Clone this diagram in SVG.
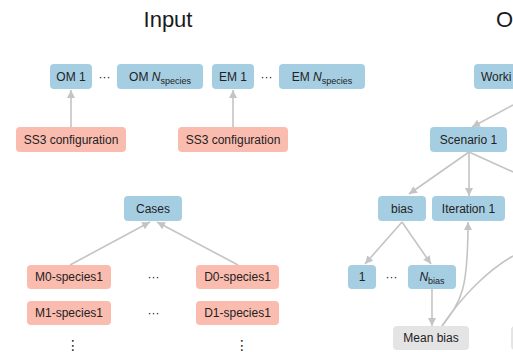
<svg xmlns="http://www.w3.org/2000/svg" width="513" height="352" viewBox="0 0 513 352">
<defs>
<marker id="ah" viewBox="0 0 10 10" refX="10" refY="5" markerWidth="8" markerHeight="8" markerUnits="userSpaceOnUse" orient="auto">
<path d="M0,0 L10,5 L0,10 z" fill="#c4c4c4"/>
</marker>
<style>
.b{fill:#a6cee3}
.p{fill:#fbbcb0}
.g{fill:#e4e4e4}
text{font-family:"Liberation Sans",Arial,sans-serif;font-size:12px;fill:#222222;text-anchor:middle}
.t{font-size:22px;fill:#1a1a1a}
.s{font-size:9px}
.i{font-style:italic}
.e{stroke:#c4c4c4;stroke-width:1.6;fill:none}
.a{marker-end:url(#ah)}
.v{font-family:"DejaVu Sans",sans-serif;font-size:14px}
</style>
</defs>
<rect width="513" height="352" fill="#ffffff"/>
<text class="t" x="168" y="27">Input</text>
<text class="t" x="496" y="27" style="text-anchor:start">O</text>

<g id="connectors">
<line class="e a" x1="71" y1="127" x2="71" y2="90"/>
<line class="e a" x1="233" y1="127" x2="233" y2="90"/>
<line class="e a" x1="70" y1="265" x2="150" y2="222"/>
<line class="e a" x1="238" y1="265" x2="157" y2="222"/>
<line class="e a" x1="513" y1="105" x2="472" y2="127"/>
<line class="e a" x1="469" y1="152" x2="409" y2="194"/>
<line class="e a" x1="469" y1="152" x2="469" y2="196"/>
<line class="e" x1="469" y1="152" x2="513" y2="172"/>
<line class="e a" x1="402" y1="222" x2="365" y2="264"/>
<line class="e a" x1="402" y1="222" x2="431" y2="264"/>
<line class="e a" x1="432" y1="289" x2="432" y2="326"/>
<path class="e a" d="M442,326 C462,300 468,290 468,222"/>
<path class="e" d="M442,326 C462,296 488,270 513,256"/>
</g>

<g id="om1"><rect class="b" x="50" y="64" width="42" height="25" rx="4"/><text x="71" y="80.5">OM 1</text></g>
<text x="104.5" y="80.5">···</text>
<g id="omn"><rect class="b" x="117" y="64" width="86" height="25" rx="4"/><text x="160" y="80.5">OM <tspan class="i">N</tspan><tspan class="s" dy="3">species</tspan></text></g>
<g id="em1"><rect class="b" x="212" y="64" width="42" height="25" rx="4"/><text x="233" y="80.5">EM 1</text></g>
<text x="266.5" y="80.5">···</text>
<g id="emn"><rect class="b" x="279" y="64" width="86" height="25" rx="4"/><text x="322" y="80.5">EM <tspan class="i">N</tspan><tspan class="s" dy="3">species</tspan></text></g>
<g id="working"><rect class="b" x="474" y="64" width="80" height="25" rx="4"/><text x="481" y="80.5" style="text-anchor:start">Worki</text></g>

<g id="ss3a"><rect class="p" x="16" y="127" width="110" height="25" rx="4"/><text x="71" y="143.5">SS3 configuration</text></g>
<g id="ss3b"><rect class="p" x="178" y="127" width="110" height="25" rx="4"/><text x="233" y="143.5">SS3 configuration</text></g>
<g id="scenario1"><rect class="b" x="430" y="127" width="77" height="25" rx="4"/><text x="468.5" y="143.5">Scenario 1</text></g>

<g id="cases"><rect class="b" x="124" y="196" width="58" height="25" rx="4"/><text x="153" y="212.5">Cases</text></g>
<g id="bias"><rect class="b" x="378" y="196" width="48" height="25" rx="4"/><text x="402" y="212.5">bias</text></g>
<g id="iter1"><rect class="b" x="432" y="196" width="73" height="25" rx="4"/><text x="468.5" y="212.5">Iteration 1</text></g>

<g id="m0"><rect class="p" x="27" y="265" width="84" height="24" rx="4"/><text x="69" y="281">M0-species1</text></g>
<text x="153.5" y="281">···</text>
<g id="d0"><rect class="p" x="196" y="265" width="83" height="24" rx="4"/><text x="237.5" y="281">D0-species1</text></g>
<g id="m1"><rect class="p" x="27" y="301" width="84" height="24" rx="4"/><text x="69" y="317">M1-species1</text></g>
<text x="153.5" y="317">···</text>
<g id="d1"><rect class="p" x="196" y="301" width="83" height="24" rx="4"/><text x="237.5" y="317">D1-species1</text></g>
<text class="v" x="73" y="350">⋮</text>
<text class="v" x="242" y="350">⋮</text>

<g id="b1"><rect class="b" x="348" y="265" width="28" height="24" rx="4"/><text x="362" y="281">1</text></g>
<text x="391.5" y="281">···</text>
<g id="bn"><rect class="b" x="408" y="265" width="48" height="24" rx="4"/><text x="432" y="281"><tspan class="i">N</tspan><tspan class="s" dy="3">bias</tspan></text></g>
<g id="meanbias"><rect class="g" x="393" y="326" width="76" height="24" rx="4"/><text x="431" y="342">Mean bias</text></g>
<g id="offright"><rect class="g" x="511" y="326" width="30" height="24" rx="4"/></g>
</svg>
